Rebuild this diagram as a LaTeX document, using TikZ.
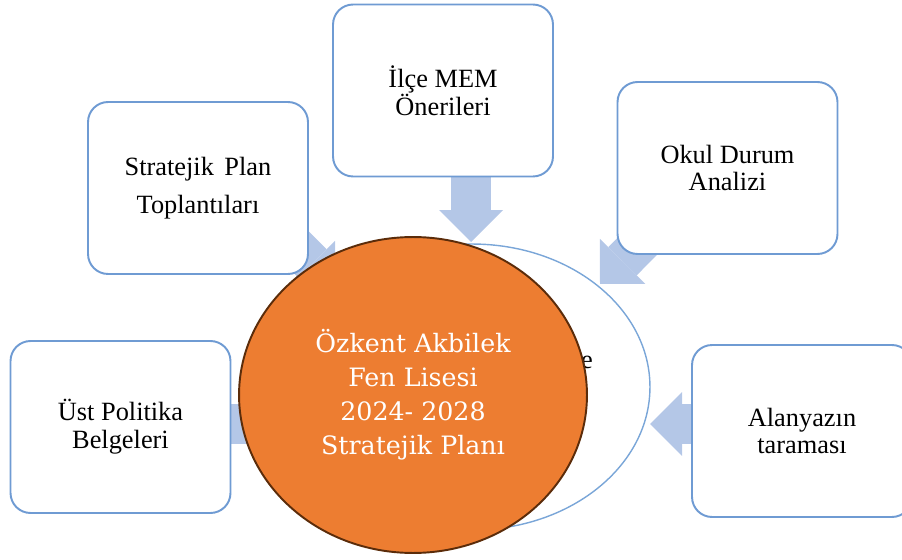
\documentclass[tikz,border=0pt]{standalone}
\usepackage{fontspec}
\setmainfont{Liberation Serif}
\newfontfamily\planfont{DejaVu Serif}
\usepackage{tikz}
\usetikzlibrary{shapes.geometric, arrows.meta, positioning, calc, backgrounds}
\definecolor{boxline}{HTML}{6F9BD3}
\definecolor{feedblue}{HTML}{B4C7E7}
\definecolor{hubline}{HTML}{7AA6D8}
\definecolor{planorange}{HTML}{ED7D31}
\definecolor{planedge}{HTML}{5B2C0A}
\tikzstyle{feed} = [draw=feedblue, line width=0.8cm, -{Triangle[length=0.64cm, width=1.28cm, line width=0pt]}]
\tikzstyle{source} = [rectangle, rounded corners=0.4cm, minimum width=4.4cm, minimum height=3.44cm, draw=boxline, line width=1.1pt, fill=white, align=center, font=\fontsize{15}{15.9}\selectfont]

\begin{document}
\begin{tikzpicture}[x=0.02cm, y=-0.02cm]
    \useasboundingbox (0,0) rectangle (902,560);
    \clip (0,0) rectangle (902,560);

    % Sources
    \node[source] (ilce) at (443,90.5) {İlçe MEM\\Önerileri};
    \node[source, font=\fontsize{15}{21.6}\selectfont] (toplanti) at (198,188) {Stratejik\hspace{0.4em}Plan\\Toplantıları};
    \node[source] (okul) at (727.5,168) {Okul Durum\\Analizi};
    \node[source] (ust) at (120.5,427) {Üst Politika\\Belgeleri};
    \node[source] (alan) at (802,431) {Alanyazın\\taraması};

    % Arrow tips
    \coordinate (tip1) at (471,242);
    \coordinate (tip2) at (600,284);
    \coordinate (tip3) at (650,424);
    \coordinate (tip4) at (300,424);
    \coordinate (tip5) at (335,286);

    % Arrows
    \begin{scope}[on background layer]
        \draw[feed] (ilce.south -| tip1) -- (tip1);
        \draw[feed] ([xshift=0.64cm, yshift=0.4cm]okul.south west) -- (tip2);
        \draw[feed] (alan.west |- tip3) -- (tip3);
        \draw[feed] (ust.east |- tip4) -- (tip4);
        \draw[feed] ([xshift=-0.36cm, yshift=0.66cm]toplanti.south east) -- (tip5);
    \end{scope}

    % Centre
    \node[ellipse, draw=hubline, line width=0.8pt, fill=white, minimum width=7.12cm, minimum height=5.72cm] (hub) at (472,387) {};
    \node[font=\fontsize{15}{15.9}\selectfont] (hubtext) at (587,362) {e};
    \node[ellipse, fill=planorange, draw=planedge, line width=1.1pt, minimum width=6.96cm, minimum height=6.32cm, text=white, align=center, font=\planfont\fontsize{14.4}{19.3}\selectfont] (plan) at (413,395) {Özkent Akbilek\\Fen Lisesi\\2024- 2028\\Stratejik Planı};

\end{tikzpicture}
\end{document}
